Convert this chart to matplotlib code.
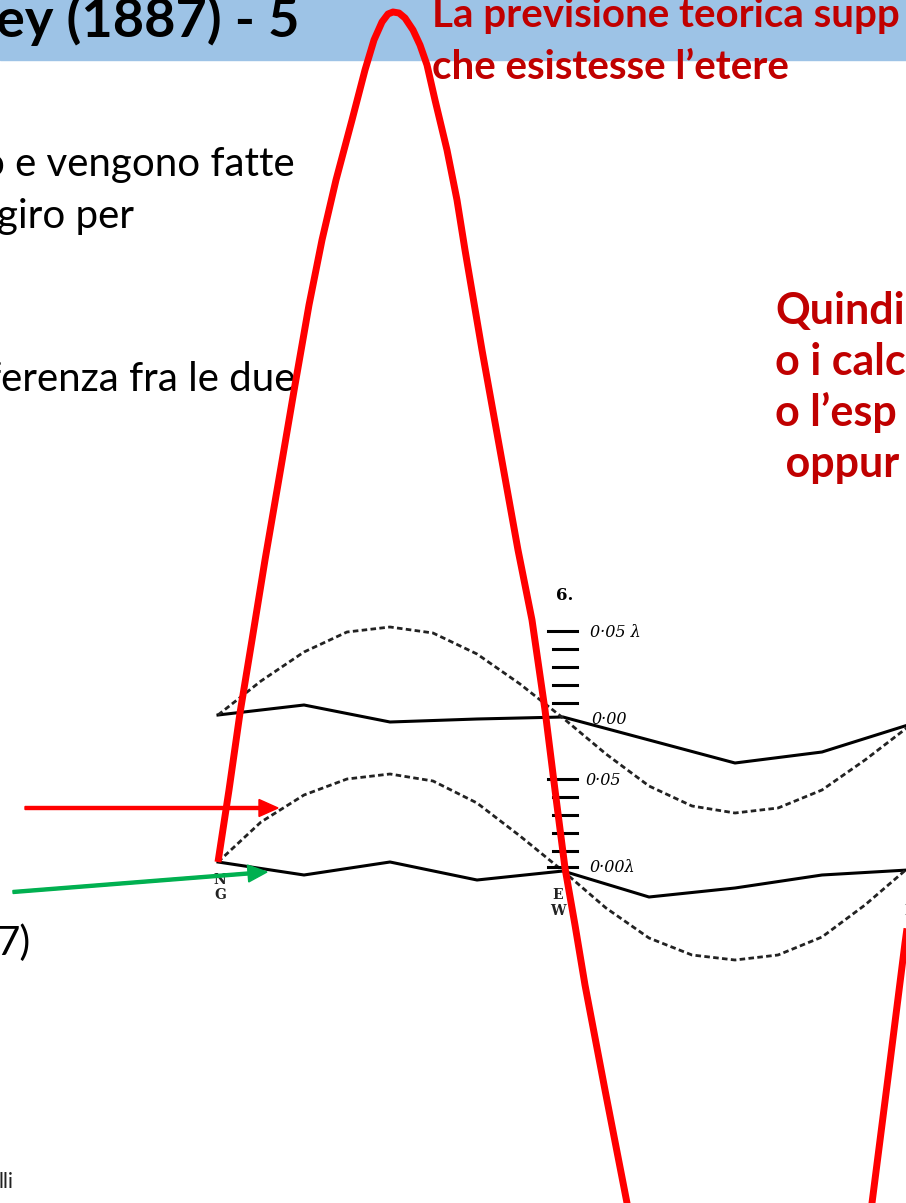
import matplotlib
matplotlib.use("Agg")
import matplotlib.pyplot as plt
from matplotlib.patches import Rectangle

# azimuth positions of the readings (N, ..., E/W, ..., S) along the plate
az_x = [218, 304, 390, 477, 563, 649, 735, 822, 908]
# observed fringe displacement, noon and evening (solid lines)
noon_y = [715, 705, 722, 719, 717, 740, 763, 752, 725]
evening_y = [862, 875, 862, 880, 871, 897, 888, 875, 870]

# expected displacement (dashed lines), one value every 1/16 turn
theo_x = [218, 261, 304, 347, 390, 433, 477, 520, 563, 606, 649, 692, 735, 778, 822, 865, 908]
theo_noon_y = [715, 681, 652, 632, 627, 633, 654, 684, 718, 754, 786, 806, 813, 808, 790, 760, 727]
theo_evening_y = [862, 822, 795, 779, 774, 781, 803, 836, 871, 908, 938, 955, 960, 955, 937, 905, 868]

# the big red curve: prediction on the same scale
red_x = [218, 229, 240, 252, 265, 281, 295, 309, 322, 336, 352, 365, 374, 382, 388, 393,
         399, 405, 413, 420, 427, 435, 447, 457, 465, 482, 500, 518, 532, 545, 555, 565,
         575, 585, 605, 627, 645, 675, 710, 750, 790, 825, 855, 872, 889, 905, 915]
red_y = [862, 790, 713, 640, 560, 467, 385, 305, 240, 180, 120, 70, 40, 22, 14, 12,
         13, 18, 30, 45, 65, 100, 150, 200, 250, 350, 450, 550, 620, 710, 790, 868,
         925, 985, 1090, 1203, 1320, 1450, 1540, 1570, 1540, 1440, 1320, 1203, 1070, 943, 870]

# scale ticks next to the plot
tick_upper = [631, 649, 667, 685, 703]
tick_lower = [779, 797, 815, 833, 851, 867]

W, H = 906, 1203
fig = plt.figure(figsize=(W / 100, H / 100), dpi=100)
ax = fig.add_axes([0, 0, 1, 1])
ax.set_xlim(0, W)
ax.set_ylim(H, 0)
ax.axis("off")

sans = ["Lato", "DejaVu Sans"]
dark_red = "#C00000"

# barra del titolo
ax.add_patch(Rectangle((0, 0), W, 60, color="#9DC3E6", zorder=0))
ax.text(-4, 37, "ey (1887) - 5", fontsize=39, fontweight="bold", family=sans,
        color="black", va="baseline", ha="left")
ax.text(432, 27, "La previsione teorica supp", fontsize=29, fontweight="bold",
        family=sans, color=dark_red, va="baseline")
ax.text(432, 79, "che esistesse l\u2019etere", fontsize=29, fontweight="bold",
        family=sans, color=dark_red, va="baseline")

# testo a sinistra
ax.text(295, 176, "o e vengono fatte", fontsize=29, family=sans, ha="right", va="baseline")
ax.text(-3, 228, "giro per", fontsize=29, family=sans, ha="left", va="baseline")
ax.text(295, 391, "ferenza fra le due", fontsize=29, family=sans, ha="right", va="baseline")
ax.text(-3, 955, "7)", fontsize=29, family=sans, ha="left", va="baseline")
ax.text(-2, 1188, "lli", fontsize=15, family=sans, ha="left", va="baseline", color="#222222")

# testo a destra
for txt, x, y in [("Quindi", 775, 324), ("o i calc", 775, 375),
                  ("o l\u2019esp", 775, 426), (" oppur", 775, 477)]:
    ax.text(x, y, txt, fontsize=31, fontweight="bold", family=sans,
            color=dark_red, va="baseline")

# grafico di Michelson-Morley
ax.plot(az_x, noon_y, color="black", lw=2.2, zorder=3)
ax.plot(az_x, evening_y, color="black", lw=2.2, zorder=3)
ax.plot(theo_x, theo_noon_y, color="#222222", lw=2.0, ls=(0, (2.0, 1.2)), zorder=3)
ax.plot(theo_x, theo_evening_y, color="#222222", lw=2.0, ls=(0, (2.0, 1.2)), zorder=3)

for i, y in enumerate(tick_upper):
    ax.plot([548 if i == 0 else 553, 577], [y, y], color="black", lw=2.2, zorder=3)
for i, y in enumerate(tick_lower):
    ax.plot([548 if i in (0, 5) else 553, 577], [y, y], color="black", lw=2.2, zorder=3)

serif = ["DejaVu Serif"]
ax.text(556, 600, "6.", fontsize=12, fontweight="bold", family=serif, va="baseline")
ax.text(590, 637, "0\u00b705 \u03bb", fontsize=11.5, style="italic", family=serif, va="baseline")
ax.text(592, 724, "0\u00b700", fontsize=11.5, style="italic", family=serif, va="baseline")
ax.text(585, 785, "0\u00b705", fontsize=11.5, style="italic", family=serif, va="baseline")
ax.text(590, 872, "0\u00b700\u03bb", fontsize=11.5, style="italic", family=serif, va="baseline")
for lab, x, y in [("N", 220, 884), ("G", 220, 899), ("E", 558, 899),
                  ("W", 558, 915), ("S", 911, 899), ("N", 911, 915)]:
    ax.text(x, y, lab, fontsize=10, fontweight="bold", family=serif, ha="center",
            va="baseline", color="#222222")

# curva rossa e frecce
ax.plot(red_x, red_y, color="#FF0000", lw=5, solid_capstyle="butt", zorder=5)
ax.arrow(25, 808, 253, 0, width=3, head_width=17, head_length=19,
         length_includes_head=True, color="#FF0000", zorder=4)
ax.arrow(13, 892, 254, -20, width=3, head_width=17, head_length=19,
         length_includes_head=True, color="#00B050", zorder=4)

fig.savefig("out.png", dpi=100)
